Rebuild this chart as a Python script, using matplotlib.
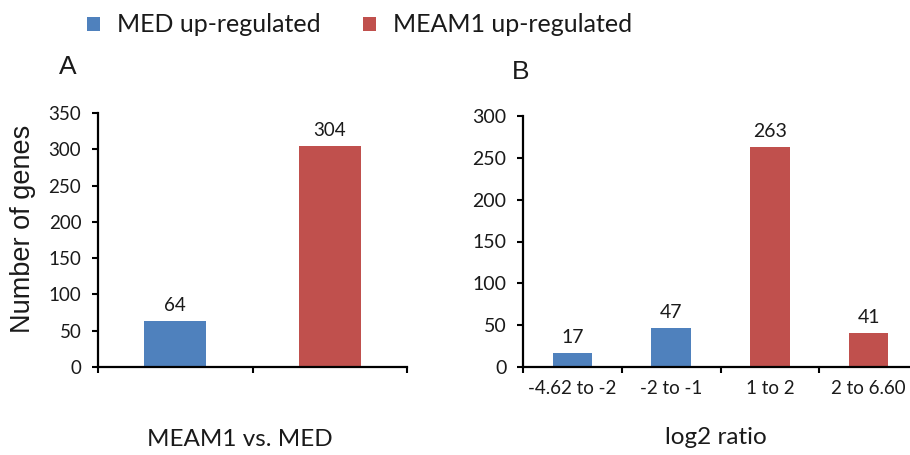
import matplotlib
matplotlib.use("Agg")
import matplotlib.pyplot as plt
from matplotlib.patches import Patch

# ---- data ----
series_names = ["MED up-regulated", "MEAM1 up-regulated"]
series_colors = ["#4F81BD", "#C0504D"]

a_values = [64, 304]
a_series = [0, 1]
a_xlabel = "MEAM1 vs. MED"
a_yticks = [0, 50, 100, 150, 200, 250, 300, 350]

b_categories = ["-4.62 to -2", "-2 to -1", "1 to 2", "2 to 6.60"]
b_values = [17, 47, 263, 41]
b_series = [0, 0, 1, 1]
b_xlabel = "log2 ratio"
b_yticks = [0, 50, 100, 150, 200, 250, 300]

body_font = ["Lato", "DejaVu Sans"]
arial = ["Liberation Sans", "DejaVu Sans"]
txt = "#1a1a1a"

fig = plt.figure(figsize=(9.1, 4.55), dpi=100)

W, H = 910.0, 455.0
axA = fig.add_axes([98 / W, (H - 367) / H, (407 - 98) / W, (367 - 113) / H])
axB = fig.add_axes([523 / W, (H - 367) / H, (918 - 523) / W, (367 - 116) / H])


def style(ax, n, yticks, ylim, tick_fs, pad):
    ax.set_xlim(-0.5, n - 0.5)
    ax.set_ylim(*ylim)
    for s in ["top", "right"]:
        ax.spines[s].set_visible(False)
    for s in ["left", "bottom"]:
        ax.spines[s].set_linewidth(1.6)
        ax.spines[s].set_color("black")
    ax.set_yticks(yticks)
    ax.tick_params(axis="y", direction="out", length=4, width=1.5,
                   pad=pad, labelsize=tick_fs, labelcolor=txt)
    ax.set_xticks([i - 0.5 for i in range(n + 1)])
    ax.set_xticklabels([])
    ax.tick_params(axis="x", which="major", direction="out", length=4, width=1.5)
    for lab in ax.get_yticklabels():
        lab.set_family(body_font)


# Panel A
xa = list(range(len(a_values)))
axA.bar(xa, a_values, width=0.4,
        color=[series_colors[s] for s in a_series], zorder=2)
style(axA, len(a_values), a_yticks, (0, 350), 13.5, 8)
for x, v in zip(xa, a_values):
    axA.annotate(str(v), (x, v), xytext=(0, 5), textcoords="offset points",
                 ha="center", va="bottom", fontsize=13.5, family=body_font, color=txt)
axA.set_xlabel(a_xlabel, fontsize=17.5, family=body_font, color=txt)
axA.xaxis.set_label_coords(0.46, -(440 - 367) / (367 - 113))
axA.xaxis.label.set_va("center")
axA.set_ylabel("Number of genes", fontsize=19.5, family=arial, color=txt)
axA.yaxis.set_label_coords(-(98 - 23) / (407 - 98), (367 - 229) / (367 - 113))
axA.yaxis.label.set_va("center")

# Panel B
xb = list(range(len(b_values)))
axB.bar(xb, b_values, width=0.4,
        color=[series_colors[s] for s in b_series], zorder=2)
style(axB, len(b_values), b_yticks, (0, 300), 14, 8)
axB.set_xticks(xb, minor=True)
axB.set_xticklabels(b_categories, minor=True, fontsize=13.5, family=body_font, color=txt)
axB.tick_params(axis="x", which="minor", length=0, pad=9)
for x, v in zip(xb, b_values):
    axB.annotate(str(v), (x, v), xytext=(0, 5), textcoords="offset points",
                 ha="center", va="bottom", fontsize=14, family=body_font, color=txt)
axB.set_xlabel(b_xlabel, fontsize=17.5, family=body_font, color=txt)
axB.xaxis.set_label_coords((716 - 523) / (918 - 523), -(437 - 367) / (367 - 116))
axB.xaxis.label.set_va("center")

# Panel letters
fig.text(68 / W, 1 - 67 / H, "A", fontsize=19, family=arial, color=txt,
         ha="center", va="center")
fig.text(521 / W, 1 - 72 / H, "B", fontsize=19, family=arial, color=txt,
         ha="center", va="center")

# Legend
handles = [Patch(facecolor=c, edgecolor="none") for c in series_colors]
fig.legend(handles, series_names, loc="center left",
           bbox_to_anchor=(87 / W, 1 - 25 / H), ncol=2, frameon=False,
           prop={"family": body_font, "size": 18}, labelcolor=txt,
           handlelength=0.5, handleheight=0.5, handletextpad=0.7,
           columnspacing=1.7, borderpad=0, borderaxespad=0)

fig.savefig("out.png", dpi=100)
